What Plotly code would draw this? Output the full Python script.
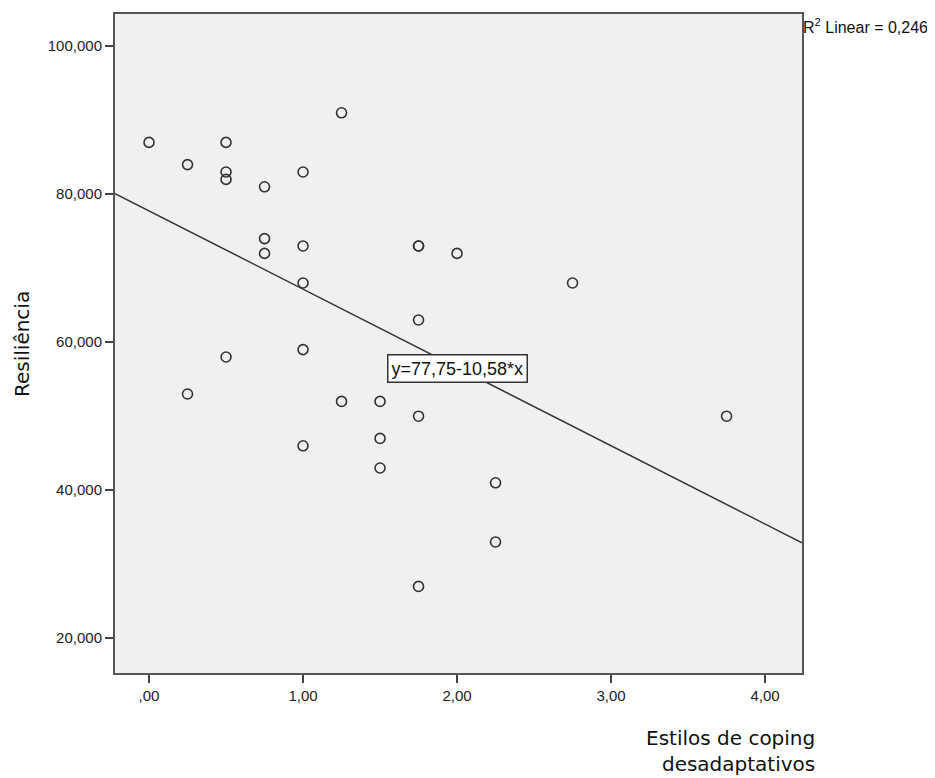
import plotly.graph_objects as go

# Data
coping = [0.00, 0.25, 0.25, 0.50, 0.50, 0.50, 0.50, 0.75, 0.75, 0.75,
          1.00, 1.00, 1.00, 1.00, 1.00, 1.25, 1.25, 1.50, 1.50, 1.50,
          1.75, 1.75, 1.75, 1.75, 1.75, 2.00, 2.25, 2.25, 2.75, 3.75]
resiliencia = [87, 84, 53, 87, 83, 82, 58, 81, 74, 72,
               83, 73, 68, 59, 46, 91, 52, 52, 47, 43,
               73, 73, 63, 50, 27, 72, 41, 33, 68, 50]

fit_intercept = 77.75
fit_slope = -10.58
fit_label = "y=77,75-10,58*x"
r2_label = "R<sup>2</sup> Linear = 0,246"

x_tickvals = [0, 1, 2, 3, 4]
x_ticktext = [",00", "1,00", "2,00", "3,00", "4,00"]
y_tickvals = [20, 40, 60, 80, 100]
y_ticktext = ["20,000", "40,000", "60,000", "80,000", "100,000"]

x_range = [-0.221, 4.24]
y_range = [15.3, 104.35]

# page body has an 8px default margin; figure coordinates are offset by it
OFF = 8
W, H = 935 - OFF, 778 - OFF
ML = 115 - OFF
MT = 12 - OFF
MR = W - (802 - OFF)
MB = H - (673 - OFF)

fig = go.Figure()

fit_x = [x_range[0], x_range[1]]
fit_y = [fit_intercept + fit_slope * v for v in fit_x]
fig.add_trace(go.Scatter(x=fit_x, y=fit_y, mode="lines",
                         line=dict(color="#333333", width=1.5),
                         hoverinfo="skip", showlegend=False))

fig.add_trace(go.Scatter(x=coping, y=resiliencia, mode="markers",
                         marker=dict(symbol="circle-open", size=10,
                                     color="#333333", line=dict(width=1.6)),
                         showlegend=False))

tick_font = dict(family="Liberation Sans, Arial", size=15, color="#222222")

fig.update_xaxes(range=x_range, tickvals=x_tickvals, ticktext=x_ticktext,
                 ticks="outside", ticklen=8, tickwidth=2, tickcolor="#444444",
                 showline=True, linecolor="#555555", linewidth=2, mirror=True,
                 showgrid=False, zeroline=False, tickfont=tick_font)
fig.update_yaxes(range=y_range, tickvals=y_tickvals, ticktext=y_ticktext,
                 ticks="outside", ticklen=8, tickwidth=2, tickcolor="#444444",
                 showline=True, linecolor="#555555", linewidth=2, mirror=True,
                 showgrid=False, zeroline=False, tickfont=tick_font)

pw = W - ML - MR
ph = H - MT - MB


def px_to_paper_x(px):
    return (px - OFF - ML) / pw


def px_to_paper_y(py):
    return (H - MB - (py - OFF)) / ph


annotations = [
    dict(x=2.006, y=56.4, xref="x", yref="y", text=fit_label, showarrow=False,
         font=dict(family="Liberation Sans, Arial", size=18, color="#111111"),
         bgcolor="white", bordercolor="#333333", borderwidth=1.5, borderpad=3),
    dict(x=px_to_paper_x(801), y=px_to_paper_y(12), xref="paper", yref="paper",
         xanchor="left", yanchor="top", text=r2_label, showarrow=False,
         font=dict(family="Liberation Sans, Arial", size=16, color="#111111")),
    dict(x=px_to_paper_x(22), y=px_to_paper_y(343), xref="paper", yref="paper",
         xanchor="center", yanchor="middle", text="Resiliência", textangle=-90,
         showarrow=False,
         font=dict(family="DejaVu Sans", size=20, color="#111111")),
    dict(x=px_to_paper_x(817), y=px_to_paper_y(724), xref="paper", yref="paper",
         xanchor="right", yanchor="top", align="right",
         text="Estilos de coping<br>desadaptativos", showarrow=False,
         font=dict(family="DejaVu Sans", size=20, color="#111111")),
]

fig.update_layout(width=W, height=H,
                  margin=dict(l=ML, r=MR, t=MT, b=MB),
                  plot_bgcolor="#F0F0F0", paper_bgcolor="white",
                  annotations=annotations, showlegend=False)

fig.write_html("out.html")
